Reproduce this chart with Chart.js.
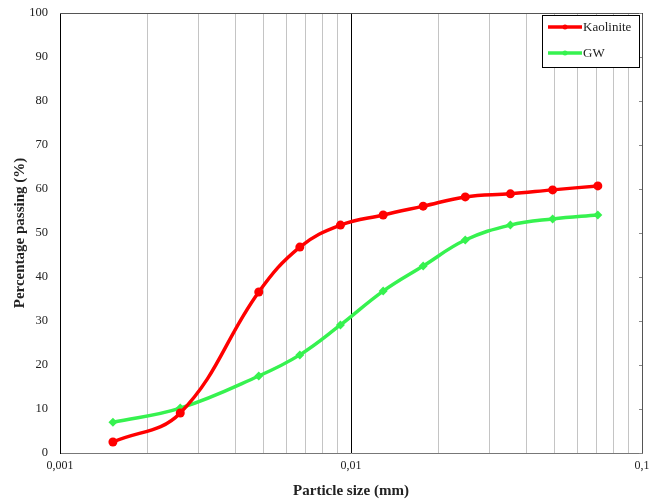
<!DOCTYPE html>
<html>
<head>
<meta charset="utf-8">
<script src="https://cdn.jsdelivr.net/npm/chart.js@4.4.0/dist/chart.umd.min.js"></script>
<style>
  html, body { margin: 0; padding: 0; background: #fff; }
  #wrap { width: 650px; height: 504px; position: relative; }
</style>
</head>
<body>
<div id="wrap"><canvas id="chart" width="650" height="504"></canvas></div>
<script>
// particle sizes (mm)
const sizes = [0.00152, 0.00259, 0.00482, 0.00667, 0.0092, 0.0129, 0.0177, 0.0247, 0.0353, 0.0493, 0.0705];
// percentage passing
const kaolinite = [2.5, 9.1, 36.6, 46.8, 51.8, 54.1, 56.1, 58.2, 58.9, 59.8, 60.7];
const gw = [7.0, 10.2, 17.5, 22.3, 29.1, 36.8, 42.5, 48.4, 51.8, 53.2, 54.1];

const majorTicks = [0.001, 0.01, 0.1];
const yTicks = [0, 10, 20, 30, 40, 50, 60, 70, 80, 90, 100];

const serif = "'Liberation Serif', 'Times New Roman', serif";

function isMajor(v) {
    return majorTicks.some(m => Math.abs(v - m) / m < 1e-6);
}

function toPoints(ys) {
    return sizes.map((s, i) => ({ x: s, y: ys[i] }));
}

// box around the plot area plus small inner ticks on the right side
const framePlugin = {
    id: 'frame',
    afterDraw(chart) {
        const { ctx, chartArea: a, scales } = chart;
        ctx.save();
        ctx.strokeStyle = '#555';
        ctx.lineWidth = 1;
        ctx.beginPath();
        ctx.moveTo(a.left, a.top + 0.5);
        ctx.lineTo(a.right + 0.5, a.top + 0.5);
        ctx.lineTo(a.right + 0.5, a.bottom);
        ctx.stroke();
        ctx.strokeStyle = '#888';
        yTicks.forEach(t => {
            const y = Math.round(scales.y.getPixelForValue(t)) + 0.5;
            ctx.beginPath();
            ctx.moveTo(a.right - 3, y);
            ctx.lineTo(a.right, y);
            ctx.stroke();
        });
        ctx.restore();
    }
};

new Chart(document.getElementById('chart'), {
    type: 'line',
    data: {
        datasets: [{
            label: 'Kaolinite',
            data: toPoints(kaolinite),
            borderColor: '#ff0000',
            backgroundColor: '#ff0000',
            borderWidth: 3.5,
            pointStyle: 'circle',
            pointRadius: 4.5,
            pointBorderWidth: 0,
            tension: 0.4
        }, {
            label: 'GW',
            data: toPoints(gw),
            borderColor: '#36f24f',
            backgroundColor: '#36f24f',
            borderWidth: 3.5,
            pointStyle: 'rectRot',
            pointRadius: 4.5,
            pointBorderWidth: 0,
            tension: 0.4
        }]
    },
    options: {
        responsive: false,
        animation: false,
        layout: { padding: { top: 13, right: 8, left: 0, bottom: 0 } },
        plugins: {
            legend: { display: false },
            tooltip: { enabled: false }
        },
        scales: {
            x: {
                type: 'logarithmic',
                min: 0.001,
                max: 0.1,
                afterBuildTicks(scale) {
                    const t = [];
                    [0.001, 0.01].forEach(d => {
                        for (let k = 1; k < 10; k++) t.push({ value: d * k });
                    });
                    t.push({ value: 0.1 });
                    scale.ticks = t;
                },
                afterFit(scale) {
                    scale.height = 51;
                    scale.paddingLeft = 0;
                    scale.paddingRight = 0;
                },
                grid: {
                    color: ctx => (ctx.tick && isMajor(ctx.tick.value)) ? '#000' : '#c4c4c4',
                    lineWidth: 1,
                    drawTicks: false
                },
                border: { color: '#777' },
                ticks: {
                    autoSkip: false,
                    maxRotation: 0,
                    padding: 6,
                    color: '#222',
                    font: { family: serif, size: 12 },
                    callback: v => isMajor(v) ? String(v).replace('.', ',') : ''
                },
                title: {
                    display: true,
                    text: 'Particle size (mm)',
                    color: '#222',
                    font: { family: serif, size: 15, weight: 'bold' },
                    padding: { top: 4 }
                }
            },
            y: {
                min: 0,
                max: 100,
                afterBuildTicks(scale) {
                    scale.ticks = yTicks.map(v => ({ value: v }));
                },
                afterFit(scale) {
                    scale.width = 60;
                    scale.paddingTop = 0;
                    scale.paddingBottom = 0;
                },
                grid: { display: false, drawTicks: false },
                border: { color: '#000' },
                ticks: {
                    autoSkip: false,
                    padding: 12,
                    color: '#222',
                    font: { family: serif, size: 12.5 }
                },
                title: {
                    display: true,
                    text: 'Percentage passing (%)',
                    color: '#222',
                    font: { family: serif, size: 15, weight: 'bold' },
                    padding: { bottom: 0, top: 11 }
                }
            }
        }
    },
    plugins: [framePlugin, {
        id: 'legendBox',
        afterDraw(chart) {
            const { ctx } = chart;
            const x0 = 542, y0 = 15, w = 97, h = 52;
            ctx.save();
            ctx.fillStyle = '#fff';
            ctx.fillRect(x0, y0, w, h);
            ctx.strokeStyle = '#000';
            ctx.lineWidth = 1;
            ctx.strokeRect(x0 + 0.5, y0 + 0.5, w, h);
            const items = chart.data.datasets;
            items.forEach((ds, i) => {
                const y = y0 + 12 + i * 26;
                ctx.strokeStyle = ds.borderColor;
                ctx.lineWidth = 3.5;
                ctx.beginPath();
                ctx.moveTo(x0 + 6, y);
                ctx.lineTo(x0 + 40, y);
                ctx.stroke();
                ctx.fillStyle = ds.borderColor;
                ctx.beginPath();
                ctx.arc(x0 + 23, y, 2.5, 0, Math.PI * 2);
                ctx.fill();
                ctx.fillStyle = '#222';
                ctx.font = '13px ' + serif;
                ctx.textBaseline = 'middle';
                ctx.fillText(ds.label, x0 + 41, y + 1);
            });
            ctx.restore();
        }
    }]
});
</script>
</body>
</html>
